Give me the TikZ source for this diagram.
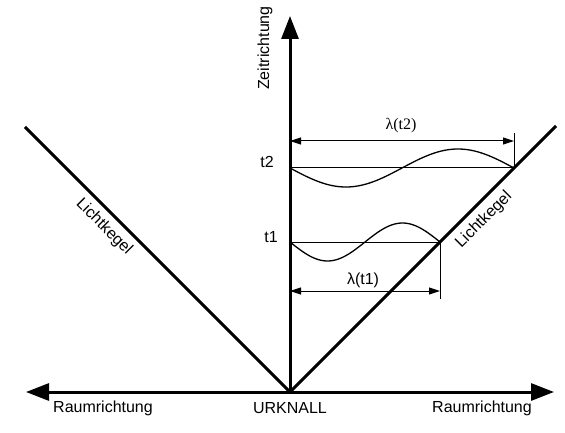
\documentclass[tikz,border=0pt]{standalone}
\usepackage{fontspec}
\setmainfont{Liberation Sans}
\newfontfamily\serifx{Liberation Serif}
\usetikzlibrary{arrows.meta}
\begin{document}
\begin{tikzpicture}[x=1pt,y=-1pt,
  axis/.style={line width=3pt,-{Triangle[length=23pt,width=17pt]}},
  cone/.style={line width=3pt},
  thin/.style={line width=1pt},
  wave/.style={line width=1.3pt},
  dim/.style={line width=1pt,{Triangle[length=11pt,width=7pt]}-{Triangle[length=11pt,width=7pt]}},
  lbl/.style={font=\fontsize{16}{19}\selectfont,inner sep=0pt}]
\useasboundingbox (0,0) rectangle (565,433);
\coordinate (O) at (290,392);
\coordinate (T) at (290,16);
\coordinate (L) at (26,392);
\coordinate (R) at (554,392);
\coordinate (CL) at (25,127);
\coordinate (CR) at (556,126);
\coordinate (A2) at (290,168);
\coordinate (B2) at (514,168);
\coordinate (A1) at (290,242);
\coordinate (B1) at (440,242);
\coordinate (D2a) at (290,141);
\coordinate (D2b) at (514,141);
\coordinate (E2) at (514,133);
\coordinate (D1a) at (290,291);
\coordinate (D1b) at (440,291);
\coordinate (E1) at (440,299);
% axes
\draw[axis] (O) -- (T);
\draw[axis] (O) -- (L);
\draw[axis] (O) -- (R);
% light cone
\draw[cone] (O) -- (CL);
\draw[cone] (O) -- (CR);
% horizontal lines
\draw[thin] (A2) -- (B2);
\draw[thin] (A1) -- (B1);
% waves
\draw[wave] plot[domain=0:224,samples=80,smooth] ({290+\x},{168+19*sin(\x/224*360)});
\draw[wave] plot[domain=0:150,samples=60,smooth] ({290+\x},{242+19*sin(\x/150*360)});
% dimension lines
\draw[thin] (B2) -- (E2);
\draw[dim] (D2a) -- (D2b);
\draw[thin] (B1) -- (E1);
\draw[dim] (D1a) -- (D1b);
% labels
\node[lbl,rotate=90] (zeit) at (265,48) {Zeitrichtung};
\node[lbl] (t2) at (267,162) {t2};
\node[lbl] (t1) at (271,237) {t1};
\node[lbl] (l2) at (401,126) {\serifx λ(t2)};
\node[lbl] (l1) at (363,280) {λ(t1)};
\node[lbl,rotate=-45] (lk1) at (104,227) {Lichtkegel};
\node[lbl,rotate=45] (lk2) at (484,220) {Lichtkegel};
\node[lbl] (r1) at (103,408) {Raumrichtung};
\node[lbl] (uk) at (290,408) {URKNALL};
\node[lbl] (r2) at (482,408) {Raumrichtung};
\end{tikzpicture}
\end{document}
